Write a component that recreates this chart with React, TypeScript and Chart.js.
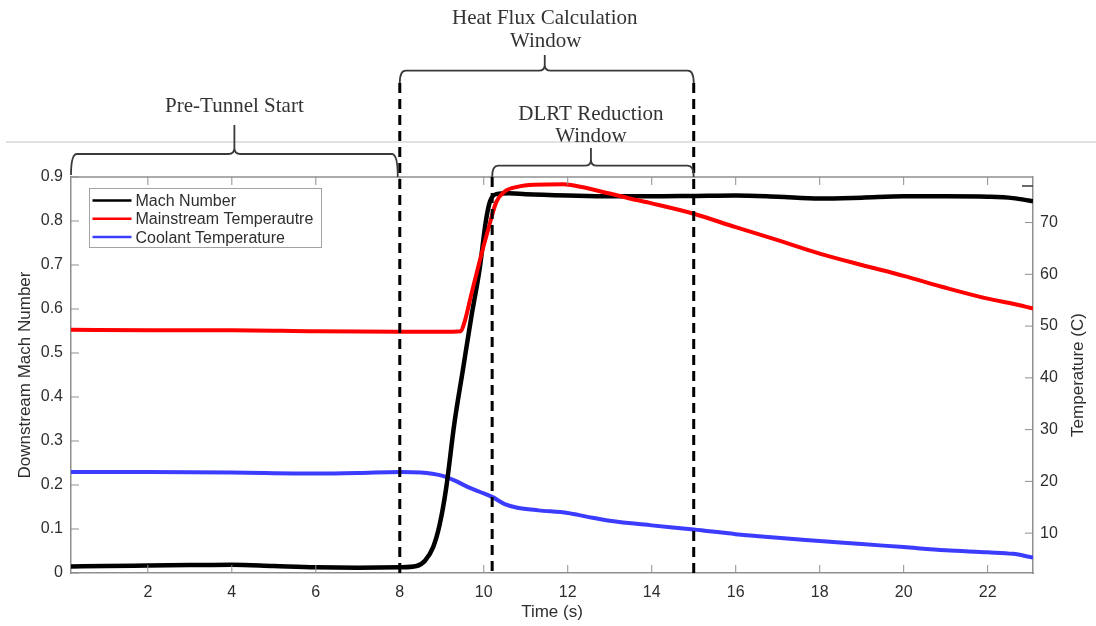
import React, { useEffect, useRef } from "react";
import { Chart, registerables } from "chart.js";

Chart.register(...registerables);

// Axis ranges and tick positions
const timeMin = 0.17;
const timeMax = 23.08;
const timeTicks = [2, 4, 6, 8, 10, 12, 14, 16, 18, 20, 22];
const machTicks = [0, 0.1, 0.2, 0.3, 0.4, 0.5, 0.6, 0.7, 0.8, 0.9];
const tempMin = 2.3;
const tempMax = 78.8;
const tempTicks = [10, 20, 30, 40, 50, 60, 70];

// Downstream Mach number (left axis)
const machTime = [0.17, 1, 2, 3, 4, 5, 6, 7, 8, 8.4, 8.6, 8.8, 8.95, 9.1, 9.3, 9.5, 9.7, 9.9, 10.05, 10.15, 10.3, 10.6, 11, 12, 13, 14, 15, 16, 17, 18, 19, 20, 21, 22, 22.6, 23.08];
const machValues = [0.015, 0.016, 0.017, 0.018, 0.019, 0.016, 0.013, 0.012, 0.013, 0.016, 0.028, 0.06, 0.11, 0.19, 0.34, 0.46, 0.58, 0.69, 0.8, 0.845, 0.861, 0.863, 0.861, 0.858, 0.856, 0.856, 0.857, 0.858, 0.855, 0.851, 0.853, 0.856, 0.856, 0.855, 0.852, 0.845];

// Mainstream temperature (right axis, °C)
const mainTime = [0.17, 2, 4, 6, 8, 9, 9.45, 9.55, 9.7, 9.9, 10.1, 10.3, 10.5, 10.8, 11.2, 11.9, 12.3, 13, 13.5, 14, 15, 16, 17, 18, 19, 20, 21, 22, 22.6, 23.08];
const mainTemp = [49.3, 49.2, 49.2, 49.0, 48.9, 48.9, 49.0, 51, 56, 62.5, 68.5, 74, 76, 76.9, 77.3, 77.4, 76.9, 75.6, 74.6, 73.7, 71.7, 69.1, 66.6, 64.0, 61.8, 59.7, 57.4, 55.3, 54.3, 53.4];

// Coolant temperature (right axis, °C)
const coolTime = [0.17, 2, 4, 6, 7, 8, 8.5, 9, 9.3, 9.6, 9.9, 10.2, 10.5, 10.8, 11.3, 12, 12.5, 13, 14, 15, 16, 17, 18, 19, 20, 21, 22, 22.6, 23.08];
const coolTemp = [21.8, 21.8, 21.7, 21.5, 21.6, 21.8, 21.7, 21.1, 20.2, 19.0, 18.0, 17.0, 15.6, 14.9, 14.4, 13.9, 13.1, 12.4, 11.5, 10.7, 9.8, 9.1, 8.5, 7.9, 7.3, 6.7, 6.3, 6.0, 5.3];

// Time markers for the annotated windows
const preTunnelEnd = 8;
const heatFluxWindow = [8, 15];
const dlrtWindow = [10.2, 15];

const SANS = '"Liberation Sans", Arial, Helvetica, sans-serif';
const SERIF = '"Liberation Serif", "Times New Roman", serif';
const TEXT = "#2e2e2e";
const AXIS = "#8f8f8f";

const toPoints = (xs: number[], ys: number[]) => xs.map((x, i) => ({ x, y: ys[i] }));

function drawBrace(
  ctx: CanvasRenderingContext2D,
  x1: number,
  x2: number,
  xm: number,
  yb: number,
  yEnd1: number,
  yEnd2: number,
  yTip: number
) {
  const r = 6;
  ctx.beginPath();
  ctx.moveTo(x1, yEnd1);
  ctx.quadraticCurveTo(x1, yb, x1 + r, yb);
  ctx.lineTo(xm - r, yb);
  ctx.quadraticCurveTo(xm, yb, xm, yb - r);
  ctx.lineTo(xm, yTip);
  ctx.moveTo(xm, yb - r);
  ctx.quadraticCurveTo(xm, yb, xm + r, yb);
  ctx.lineTo(x2 - r, yb);
  ctx.quadraticCurveTo(x2, yb, x2, yEnd2);
  ctx.stroke();
}

const decorations = {
  id: "decorations",
  afterDatasetsDraw(chart: any) {
    const { ctx, chartArea } = chart;
    const { left, right, top, bottom } = chartArea;
    const xs = chart.scales.x;
    const ys = chart.scales.y;
    const y2 = chart.scales.y2;

    ctx.save();
    // top border of the axes box
    ctx.strokeStyle = AXIS;
    ctx.lineWidth = 1.5;
    ctx.beginPath();
    ctx.moveTo(left, top);
    ctx.lineTo(right, top);
    ctx.stroke();

    // inward tick marks
    ctx.lineWidth = 1;
    const tl = 8;
    ctx.beginPath();
    for (const t of timeTicks) {
      const px = xs.getPixelForValue(t);
      ctx.moveTo(px, bottom);
      ctx.lineTo(px, bottom - tl);
      ctx.moveTo(px, top);
      ctx.lineTo(px, top + tl);
    }
    for (const m of machTicks) {
      const py = ys.getPixelForValue(m);
      ctx.moveTo(left, py);
      ctx.lineTo(left + tl, py);
    }
    for (const t of tempTicks) {
      const py = y2.getPixelForValue(t);
      ctx.moveTo(right, py);
      ctx.lineTo(right - tl, py);
    }
    ctx.stroke();

    // short mark near the upper right corner
    ctx.strokeStyle = "#444";
    ctx.lineWidth = 1.6;
    ctx.beginPath();
    ctx.moveTo(right - 11, top + 9);
    ctx.lineTo(right, top + 9);
    ctx.stroke();

    // dashed window boundaries
    ctx.strokeStyle = "#000";
    ctx.lineWidth = 3;
    ctx.setLineDash([10, 6]);
    const lines = [
      { t: heatFluxWindow[0], from: 83 },
      { t: dlrtWindow[0], from: top },
      { t: heatFluxWindow[1], from: 83 },
    ];
    for (const l of lines) {
      const px = xs.getPixelForValue(l.t);
      ctx.beginPath();
      ctx.moveTo(px, l.from);
      ctx.lineTo(px, bottom);
      ctx.stroke();
    }
    ctx.setLineDash([]);

    // legend
    const lx = 89.5, ly = 188.5, lw = 232, lh = 59;
    ctx.fillStyle = "#fff";
    ctx.fillRect(lx, ly, lw, lh);
    ctx.strokeStyle = "#a3a3a3";
    ctx.lineWidth = 1;
    ctx.strokeRect(lx, ly, lw, lh);
    ctx.font = `16px ${SANS}`;
    ctx.textAlign = "left";
    ctx.textBaseline = "middle";
    chart.data.datasets.forEach((ds: any, i: number) => {
      const yy = ly + 12 + i * 18.3;
      ctx.strokeStyle = ds.borderColor;
      ctx.lineWidth = 2.5;
      ctx.beginPath();
      ctx.moveTo(lx + 3, yy);
      ctx.lineTo(lx + 42, yy);
      ctx.stroke();
      ctx.fillStyle = TEXT;
      ctx.fillText(ds.label, lx + 46, yy + 1);
    });
    ctx.restore();
  },
  afterDraw(chart: any) {
    const { ctx, chartArea } = chart;
    const { left, top, bottom } = chartArea;
    const xs = chart.scales.x;
    const w = chart.width;
    ctx.save();

    // separator line
    ctx.strokeStyle = "#c4c4c4";
    ctx.lineWidth = 1;
    ctx.beginPath();
    ctx.moveTo(6, 142);
    ctx.lineTo(w, 142);
    ctx.stroke();

    // braces
    ctx.strokeStyle = "#3a3a3a";
    ctx.lineWidth = 1.8;
    const p8 = xs.getPixelForValue(preTunnelEnd);
    const hf1 = xs.getPixelForValue(heatFluxWindow[0]);
    const hf2 = xs.getPixelForValue(heatFluxWindow[1]);
    const d1 = xs.getPixelForValue(dlrtWindow[0]);
    const d2 = xs.getPixelForValue(dlrtWindow[1]);
    const preMid = (left + p8 - 2) / 2;
    const hfMid = (hf1 + hf2) / 2 - 2;
    const dMid = (d1 + d2) / 2 - 2;
    drawBrace(ctx, left, p8 - 2, preMid, 154, 175, top, 125);
    drawBrace(ctx, hf1, hf2, hfMid, 70.7, 83, 83, 55);
    drawBrace(ctx, d1, d2, dMid, 165.7, top, top, 148);

    // window labels
    ctx.fillStyle = "#333";
    ctx.font = `21px ${SERIF}`;
    ctx.textAlign = "center";
    ctx.textBaseline = "alphabetic";
    ctx.fillText("Pre-Tunnel Start", preMid, 111.5);
    ctx.fillText("Heat Flux Calculation", hfMid, 24);
    ctx.fillText("Window", hfMid + 1, 46.5);
    ctx.fillText("DLRT Reduction", dMid, 120);
    ctx.fillText("Window", dMid, 141.5);

    // right axis title (reads bottom to top)
    ctx.font = `17px ${SANS}`;
    ctx.fillStyle = TEXT;
    ctx.textBaseline = "middle";
    ctx.translate(1078, (top + bottom) / 2);
    ctx.rotate(-Math.PI / 2);
    ctx.fillText("Temperature (C)", 0, 0);
    ctx.restore();
  },
};

export default function App() {
  const canvasRef = useRef<HTMLCanvasElement | null>(null);

  useEffect(() => {
    if (!canvasRef.current) return;
    const tickFont = { family: SANS, size: 16 };
    const titleFont = { family: SANS, size: 17 };
    const chart = new Chart(canvasRef.current, {
      type: "line",
      data: {
        datasets: [
          {
            label: "Mach Number",
            data: toPoints(machTime, machValues),
            yAxisID: "y",
            borderColor: "#000000",
            borderWidth: 4.5,
            pointRadius: 0,
            cubicInterpolationMode: "monotone",
            order: 2,
          },
          {
            label: "Mainstream Temperautre",
            data: toPoints(mainTime, mainTemp),
            yAxisID: "y2",
            borderColor: "#ff0000",
            borderWidth: 4,
            pointRadius: 0,
            cubicInterpolationMode: "monotone",
            order: 1,
          },
          {
            label: "Coolant Temperature",
            data: toPoints(coolTime, coolTemp),
            yAxisID: "y2",
            borderColor: "#3c3cff",
            borderWidth: 4,
            pointRadius: 0,
            cubicInterpolationMode: "monotone",
            order: 3,
          },
        ],
      },
      options: {
        responsive: false,
        animation: false,
        devicePixelRatio: 1,
        layout: { padding: { top: 177, left: 0, right: 0, bottom: 0 } },
        plugins: { legend: { display: false }, tooltip: { enabled: false } },
        scales: {
          x: {
            type: "linear",
            position: "bottom",
            min: timeMin,
            max: timeMax,
            afterBuildTicks: (s: any) => {
              s.ticks = timeTicks.map((v) => ({ value: v }));
            },
            afterFit: (s: any) => {
              s.height = 53;
            },
            ticks: {
              font: tickFont,
              color: TEXT,
              padding: 10,
              maxRotation: 0,
              autoSkip: false,
              callback: (v: any) => String(v),
            },
            grid: { display: false, drawTicks: false },
            border: { display: true, color: AXIS, width: 1.5 },
            title: {
              display: true,
              text: "Time (s)",
              font: titleFont,
              color: TEXT,
              padding: { top: 0, bottom: 3 },
            },
          },
          y: {
            type: "linear",
            position: "left",
            min: 0,
            max: 0.9,
            afterBuildTicks: (s: any) => {
              s.ticks = machTicks.map((v) => ({ value: v }));
            },
            afterFit: (s: any) => {
              s.width = 71;
            },
            ticks: {
              font: tickFont,
              color: TEXT,
              padding: 8,
              callback: (v: any) => (v === 0 ? "0" : Number(v).toFixed(1)),
            },
            grid: { display: false, drawTicks: false },
            border: { display: true, color: AXIS, width: 1.5 },
            title: {
              display: true,
              text: "Downstream Mach Number",
              font: titleFont,
              color: TEXT,
              padding: { top: 15, bottom: 0 },
            },
          },
          y2: {
            type: "linear",
            position: "right",
            min: tempMin,
            max: tempMax,
            afterBuildTicks: (s: any) => {
              s.ticks = tempTicks.map((v) => ({ value: v }));
            },
            afterFit: (s: any) => {
              s.width = 63;
            },
            ticks: {
              font: tickFont,
              color: TEXT,
              padding: 7,
              callback: (v: any) => String(v),
            },
            grid: { display: false, drawTicks: false },
            border: { display: true, color: AXIS, width: 1.5 },
          },
        },
      },
      plugins: [decorations],
    } as any);
    return () => chart.destroy();
  }, []);

  return (
    <div
      style={{
        position: "fixed",
        left: 0,
        top: 0,
        width: 1096,
        height: 626,
        background: "#fff",
      }}
    >
      <canvas ref={canvasRef} width={1096} height={626} />
    </div>
  );
}
